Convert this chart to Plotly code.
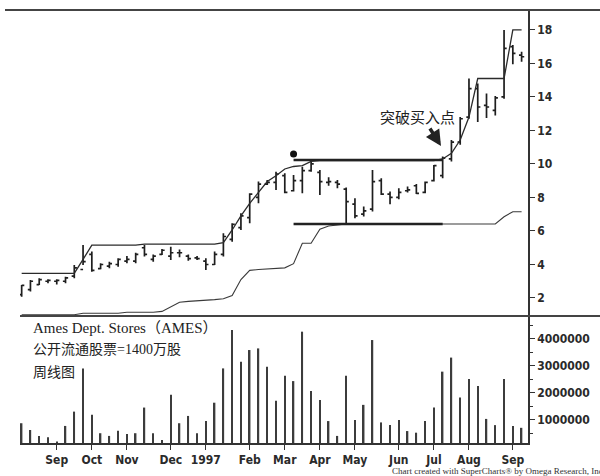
import plotly.graph_objects as go
import pandas as pd

# ---------------- data (weekly bars, Ames Dept. Stores) ----------------
weeks = pd.date_range("1996-08-09", periods=58, freq="7D")

open_ = [2.2, 2.5, 2.8, 3.0, 3.0, 3.0, 3.3, 3.7, 4.6, 3.75,
         3.9, 4.0, 4.2, 4.2, 5.0, 4.3, 4.6, 4.5, 4.7, 4.5,
         4.4, 4.2, 4.0, 4.6, 5.5, 6.2, 6.8, 8.0, 8.8, 8.9,
         9.3, 8.4, 9.0, 9.6, 9.5, 8.9, 8.9, 8.5, 7.6, 7.0,
         7.3, 9.0, 8.2, 8.0, 8.4, 8.7, 8.3, 9.0, 9.3, 10.3,
         11.3, 12.8, 14.5, 13.5, 13.2, 14.0, 17.0, 16.5]
high = [2.78, 3.07, 3.18, 3.12, 3.12, 3.27, 3.97, 5.16, 4.77, 4.07,
        4.17, 4.37, 4.5, 4.7, 5.16, 4.6, 4.92, 5.06, 4.9, 4.6,
        4.5, 4.37, 4.77, 5.86, 6.46, 7.06, 8.25, 8.95, 9.05, 9.54,
        9.44, 9.34, 9.84, 10.2, 9.64, 9.2, 9.05, 8.6, 7.95, 7.46,
        9.64, 9.15, 8.35, 8.55, 8.65, 8.8, 8.95, 9.94, 10.44, 11.43,
        12.8, 15.1, 14.8, 14.2, 14.05, 18.0, 17.1, 16.7]
low = [2.08, 2.38, 2.78, 2.88, 2.81, 2.88, 3.18, 3.97, 3.57, 3.71,
       3.77, 3.87, 4.07, 4.07, 4.47, 4.17, 4.57, 4.27, 4.43, 4.23,
       4.27, 3.67, 3.97, 4.47, 5.36, 6.06, 6.46, 7.65, 8.75, 8.45,
       8.25, 8.35, 8.25, 9.54, 8.15, 8.7, 8.55, 6.46, 6.76, 6.86,
       7.16, 8.15, 7.6, 7.9, 8.3, 8.2, 8.25, 8.95, 9.15, 10.14,
       11.15, 12.7, 12.5, 12.75, 12.9, 13.9, 15.95, 16.1]
close = [2.75, 3.0, 3.1, 3.05, 3.05, 3.2, 3.8, 4.17, 3.65, 4.0,
         4.05, 4.3, 4.3, 4.6, 4.6, 4.5, 4.85, 4.7, 4.7, 4.35,
         4.35, 4.0, 4.6, 5.67, 6.4, 6.9, 8.2, 8.8, 8.9, 9.4,
         8.3, 9.0, 9.6, 10.0, 8.95, 8.95, 8.8, 7.75, 6.9, 7.2,
         8.95, 8.2, 8.0, 8.3, 8.45, 8.25, 8.9, 9.9, 10.35, 11.3,
         12.7, 14.5, 13.4, 13.4, 13.95, 16.9, 16.6, 16.4]

volume = [880000, 630000, 410000, 360000, 200000, 780000, 1310000, 2910000, 1190000, 510000,
          410000, 600000, 480000, 510000, 1460000, 510000, 260000, 1930000, 880000, 1150000,
          510000, 960000, 1640000, 2910000, 4330000, 3160000, 3590000, 3650000, 2970000, 1710000,
          2640000, 2440000, 4270000, 2070000, 1740000, 960000, 410000, 2640000, 1000000, 1560000,
          3960000, 910000, 810000, 1000000, 590000, 530000, 960000, 1460000, 2790000, 3310000,
          1830000, 2520000, 2260000, 1040000, 810000, 2520000, 780000, 710000]

upper_channel = [3.47, 3.47, 3.47, 3.47, 3.47, 3.47, 3.47, 4.3, 5.16, 5.16,
                 5.16, 5.16, 5.16, 5.16, 5.22, 5.22, 5.22, 5.22, 5.22, 5.22,
                 5.22, 5.22, 5.22, 5.3, 6.06, 6.9, 7.65, 8.3, 8.95, 9.3,
                 9.7, 9.85, 9.9, 10.15, 10.2, 10.2, 10.2, 10.2, 10.2, 10.2,
                 10.2, 10.2, 10.2, 10.2, 10.2, 10.2, 10.2, 10.2, 10.3, 10.64,
                 11.43, 12.8, 15.1, 15.1, 15.1, 15.1, 18.0, 18.0]
lower_channel = [0.99, 0.99, 0.99, 0.99, 0.99, 0.99, 1.0, 1.09, 1.09, 1.09,
                 1.09, 1.09, 1.15, 1.15, 1.15, 1.15, 1.2, 1.5, 1.75, 1.8,
                 1.82, 1.86, 1.9, 1.95, 2.15, 3.1, 3.65, 3.7, 3.72, 3.75,
                 3.8, 4.05, 5.27, 5.27, 6.1, 6.3, 6.36, 6.42, 6.42, 6.42,
                 6.42, 6.42, 6.42, 6.42, 6.42, 6.42, 6.42, 6.42, 6.42, 6.42,
                 6.42, 6.42, 6.42, 6.42, 6.42, 6.85, 7.15, 7.15]

base_start = "1997-03-14"
base_end = "1997-07-11"
base_top = 10.24
base_bottom = 6.42
peak_date = "1997-03-14"
peak_mark = 10.6

price_ticks = [2, 4, 6, 8, 10, 12, 14, 16, 18]
volume_ticks = [1000000, 2000000, 3000000, 4000000]
month_ticks = ["1996-09-06", "1996-10-04", "1996-11-01", "1996-12-06", "1997-01-03",
               "1997-02-07", "1997-03-07", "1997-04-04", "1997-05-02", "1997-06-06",
               "1997-07-04", "1997-08-01", "1997-09-05"]
month_labels = ["Sep", "Oct", "Nov", "Dec", "1997", "Feb", "Mar", "Apr", "May",
                "Jun", "Jul", "Aug", "Sep"]

# ---------------- figure ----------------
INK = "#1e1e1e"
AX = "#333333"
TICKFONT = dict(family="Liberation Sans Narrow, DejaVu Sans Condensed, Roboto Condensed, Arial Narrow, Roboto, sans-serif",
                size=12, color="#2a2a2a", weight="bold")

week = pd.Timedelta(weeks=1)
xr = [weeks[0] - 0.19 * week, weeks[0] + 57.73 * week]

fig = go.Figure()

fig.add_trace(go.Scatter(x=weeks, y=upper_channel, mode="lines",
                         line=dict(color="#2b2b2b", width=1.3),
                         xaxis="x", yaxis="y", hoverinfo="skip", showlegend=False))
fig.add_trace(go.Scatter(x=weeks, y=lower_channel, mode="lines",
                         line=dict(color="#3a3a3a", width=1.1),
                         xaxis="x", yaxis="y", hoverinfo="skip", showlegend=False))
for lvl in (base_top, base_bottom):
    fig.add_trace(go.Scatter(x=[base_start, base_end], y=[lvl, lvl], mode="lines",
                             line=dict(color="#222", width=2.4),
                             xaxis="x", yaxis="y", hoverinfo="skip", showlegend=False))

fig.add_trace(go.Ohlc(x=weeks, open=open_, high=high, low=low, close=close,
                      increasing=dict(line=dict(color=INK, width=1.7)),
                      decreasing=dict(line=dict(color=INK, width=1.7)),
                      tickwidth=0.3, xaxis="x", yaxis="y",
                      hoverinfo="skip", showlegend=False))

fig.add_trace(go.Scatter(x=[peak_date], y=[peak_mark], mode="markers",
                         marker=dict(color="#111", size=7),
                         xaxis="x", yaxis="y", hoverinfo="skip", showlegend=False))

fig.add_trace(go.Bar(x=weeks, y=volume, width=0.17 * 7 * 24 * 3600 * 1000,
                     marker=dict(color="#3c3c3c", line=dict(width=0)),
                     xaxis="x2", yaxis="y2", hoverinfo="skip", showlegend=False))

split = 0.2933
W = 508.0
H = 433.0


def px_x(p):
    return (p - 20) / W


def px_y(p):
    return (443 - p) / H


fig.update_layout(
    width=600, height=476,
    margin=dict(l=20, r=72, t=10, b=33),
    paper_bgcolor="white", plot_bgcolor="white",
    showlegend=False,
    xaxis=dict(domain=[0, 1], anchor="y", range=xr, matches="x2",
               showticklabels=False, showgrid=False, zeroline=False,
               showline=False, ticks="", rangeslider=dict(visible=False)),
    yaxis=dict(domain=[split, 1], anchor="x", side="right",
               range=[0.925, 19.19], tickvals=price_ticks,
               ticks="outside", ticklen=5, tickwidth=1.2, tickcolor=AX,
               showline=True, linecolor=AX, linewidth=1.5,
               showgrid=False, zeroline=False, tickfont=TICKFONT),
    xaxis2=dict(domain=[0, 1], anchor="y2", range=xr,
                tickvals=month_ticks, ticktext=month_labels,
                ticks="outside", ticklen=5, tickwidth=1.2, tickcolor=AX,
                showline=True, linecolor=AX, linewidth=1.5,
                showgrid=False, zeroline=False, tickfont=TICKFONT),
    yaxis2=dict(domain=[0, split], anchor="x2", side="right",
                range=[148000, 4850000], tickvals=volume_ticks,
                ticktext=[str(v) for v in volume_ticks],
                ticks="outside", ticklen=5, tickwidth=1.2, tickcolor=AX,
                minor=dict(dtick=500000, ticks="outside", ticklen=3, tickcolor=AX),
                showline=True, linecolor=AX, linewidth=1.5,
                showgrid=False, zeroline=False, tickfont=TICKFONT),
    shapes=[
        dict(type="line", xref="paper", yref="paper", x0=px_x(5), x1=px_x(600),
             y0=1.0, y1=1.0, line=dict(color="#444", width=2)),
        dict(type="line", xref="paper", yref="paper", x0=0, x1=px_x(600),
             y0=split, y1=split, line=dict(color="#444", width=1.8)),
    ],
    annotations=[
        dict(text="Ames Dept. Stores（AMES）", xref="paper", yref="paper",
             x=px_x(31), y=px_y(328), xanchor="left", yanchor="middle", showarrow=False,
             font=dict(family="Liberation Serif, Noto Sans CJK SC, serif", size=15, color="#222")),
        dict(text="公开流通股票=1400万股", xref="paper", yref="paper",
             x=px_x(31), y=px_y(349), xanchor="left", yanchor="middle", showarrow=False,
             font=dict(family="Liberation Serif, Noto Sans CJK SC, serif", size=14, color="#222")),
        dict(text="周线图", xref="paper", yref="paper",
             x=px_x(31), y=px_y(371), xanchor="left", yanchor="middle", showarrow=False,
             font=dict(family="Noto Sans CJK SC, serif", size=14, color="#222")),
        dict(text="突破买入点", xref="paper", yref="paper",
             x=px_x(417), y=px_y(117), xanchor="center", yanchor="middle", showarrow=False,
             font=dict(family="Noto Sans CJK SC, serif", size=15, color="#222")),
        dict(text="", xref="paper", yref="paper", x=px_x(441), y=px_y(146),
             ax=-12, ay=-19, showarrow=True, arrowhead=2, arrowsize=0.9,
             arrowwidth=3.5, arrowcolor="#222"),
        dict(text="Chart created with SuperCharts® by Omega Research, Inc.",
             xref="paper", yref="paper", x=px_x(390), y=px_y(471),
             xanchor="left", yanchor="middle", showarrow=False,
             font=dict(family="Liberation Serif, serif", size=9, color="#333")),
    ],
)

fig.write_html("out.html",
               config={"displayModeBar": False},
               post_script="document.body.style.margin='0';document.body.style.overflow='hidden';")
